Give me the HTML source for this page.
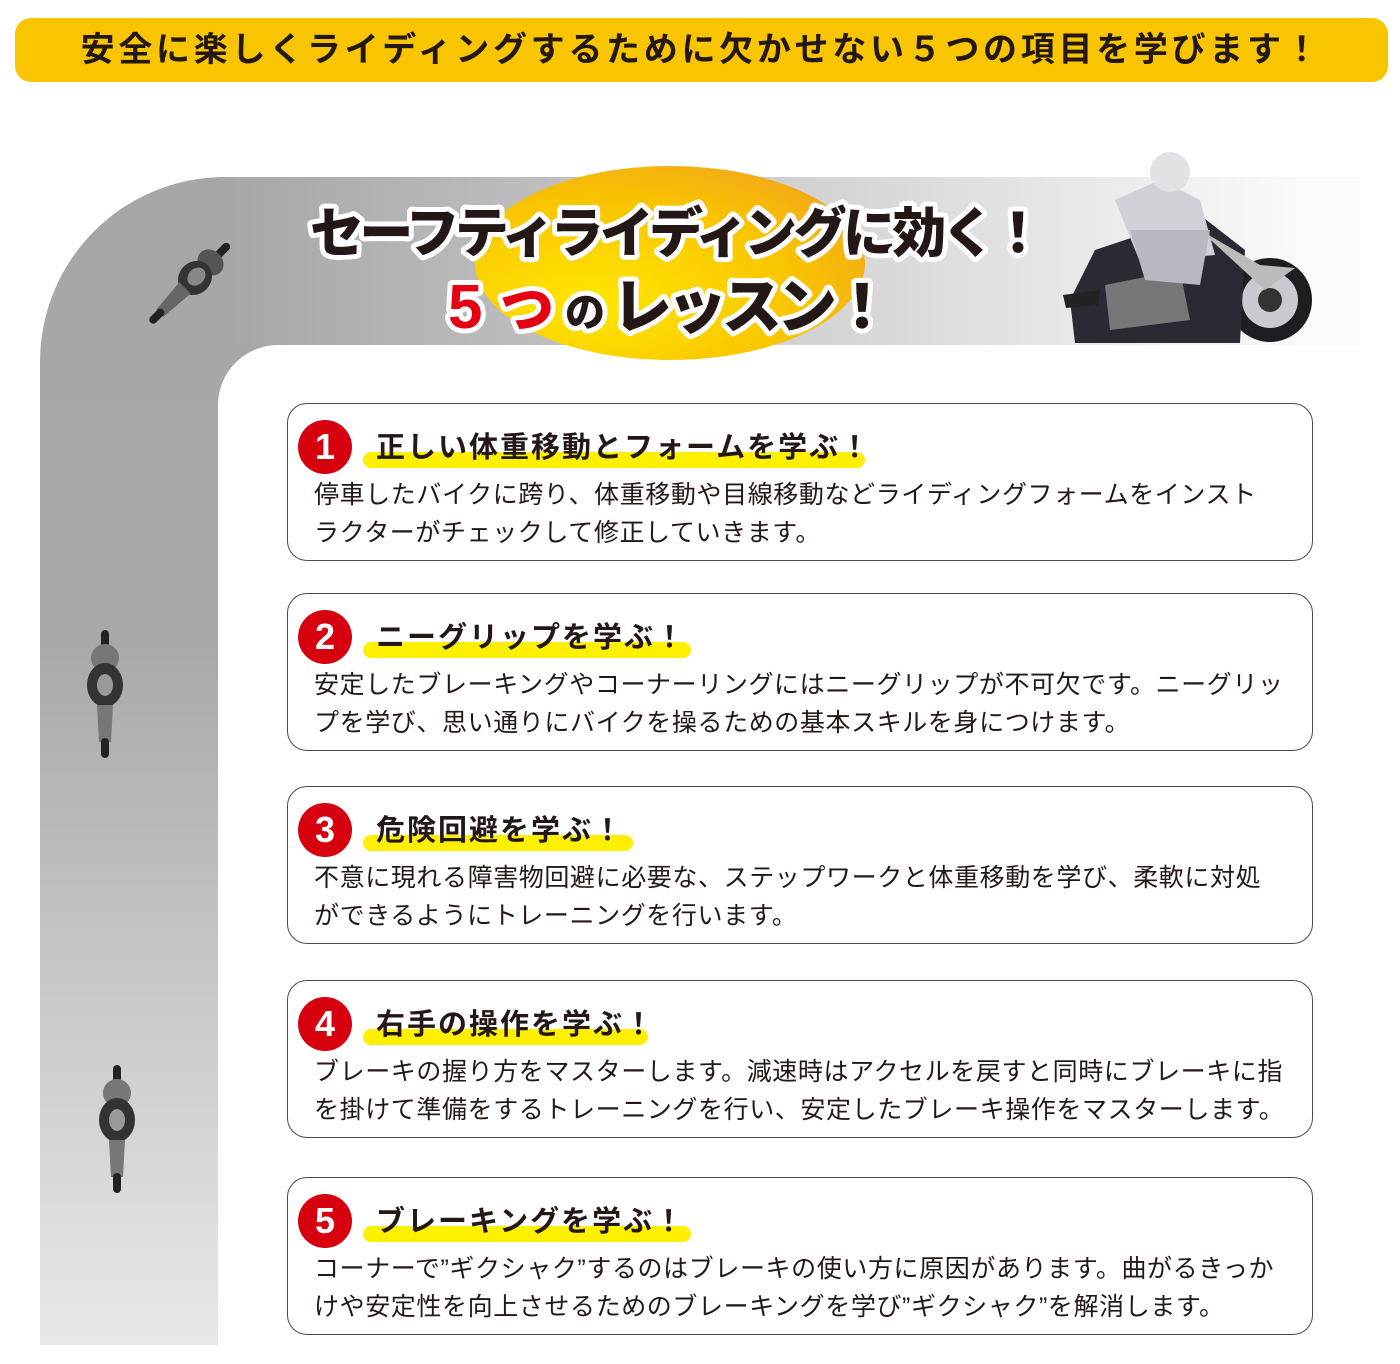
<!DOCTYPE html>
<html><head><meta charset="utf-8"><style>
*{margin:0;padding:0;box-sizing:border-box}
body{width:1400px;height:1364px;background:#fff;position:relative;overflow:hidden;font-family:"Liberation Sans","Noto Sans CJK JP",sans-serif;color:#231815}
.banner{position:absolute;left:15px;top:18px;width:1373px;height:64px;background:#f8c500;border-radius:16px;text-align:center;font-size:34px;font-weight:bold;line-height:64px;letter-spacing:3.7px}
.road{position:absolute;left:40px;top:177px;width:1320px;height:1168px;border-top-left-radius:185px;background:linear-gradient(to bottom,#a6a6a6 0%,#a9a9a9 40%,#e8e8e8 100%)}
.road2{position:absolute;left:218px;top:177px;width:1142px;height:168px;background:linear-gradient(to right,rgba(166,166,166,1) 0%,rgba(200,200,200,1) 40%,rgba(250,250,250,1) 95%)}
.inner{position:absolute;left:218px;top:345px;width:1182px;height:1019px;background:#fff;border-top-left-radius:60px}
.card{position:absolute;left:287px;width:1026px;height:158px;border:1.5px solid #4a4a4a;border-radius:20px;background:#fff}
.num{position:absolute;left:10px;top:16px;width:54px;height:54px;border-radius:50%;background:#d7000f;color:#fff;font-weight:bold;font-size:36px;text-align:center;line-height:54px}
.hd{position:absolute;left:88px;top:20px;font-size:29px;font-weight:bold;white-space:nowrap;letter-spacing:2px}
.hl{position:absolute;left:75px;top:48px;height:16px;background:#fff000;border-radius:8px}
.bd{position:absolute;left:26px;top:72px;font-size:25px;line-height:38px;white-space:nowrap;color:#231815;letter-spacing:0.6px}
</style></head><body>
<div class="banner">安全に楽しくライディングするために欠かせない５つの項目を学びます！</div>
<div class="road"></div>
<div class="road2"></div>
<div class="inner"></div>
<svg style="position:absolute;left:0;top:0" width="1400" height="1364">
<defs>
<radialGradient id="yg" cx="0.3" cy="0.7" r="0.9"><stop offset="0" stop-color="#ffe600"/><stop offset="0.6" stop-color="#f9c300"/><stop offset="1" stop-color="#f0a020"/></radialGradient>
</defs>
<ellipse cx="670" cy="263" rx="195" ry="97" fill="url(#yg)"/>
<g font-family="Liberation Sans,Noto Sans CJK JP,sans-serif" font-weight="900" stroke="#fff" stroke-width="10" paint-order="stroke" stroke-linejoin="round">
<text x="310" y="252" font-size="54" fill="#231815" textLength="735">セーフティライディングに効く！</text>
<text x="448" y="328" font-size="62" fill="#e50012">5</text>
<text x="500" y="328" font-size="54" fill="#e50012">つ</text>
<text x="565" y="326" font-size="40" fill="#231815">の</text>
<text x="612" y="328" font-size="60" fill="#231815" textLength="280">レッスン！</text>
</g>
<g transform="translate(195,278) rotate(45)">
<rect x="-4" y="-48" width="8" height="18" rx="4" fill="#222"/>
<ellipse cx="0" cy="-22" rx="14" ry="12" fill="#555"/>
<ellipse cx="0" cy="0" rx="16" ry="18" fill="#333"/>
<ellipse cx="0" cy="-2" rx="8" ry="10" fill="#888"/>
<path d="M-8 14 L8 14 L5 50 L-5 50Z" fill="#666"/>
<rect x="-4" y="45" width="8" height="18" rx="4" fill="#222"/>
</g>
<g transform="translate(105,690)">
<rect x="-4" y="-60" width="8" height="20" rx="4" fill="#222"/>
<ellipse cx="0" cy="-32" rx="14" ry="14" fill="#777"/>
<ellipse cx="0" cy="-5" rx="18" ry="22" fill="#333"/>
<ellipse cx="0" cy="-5" rx="8" ry="11" fill="#999"/>
<path d="M-8 15 L8 15 L6 52 L-6 52Z" fill="#777"/>
<rect x="-4" y="48" width="8" height="20" rx="4" fill="#222"/>
</g>
<g transform="translate(117,1125)">
<rect x="-4" y="-60" width="8" height="20" rx="4" fill="#222"/>
<ellipse cx="0" cy="-32" rx="14" ry="14" fill="#777"/>
<ellipse cx="0" cy="-5" rx="18" ry="22" fill="#333"/>
<ellipse cx="0" cy="-5" rx="8" ry="11" fill="#999"/>
<path d="M-8 15 L8 15 L6 52 L-6 52Z" fill="#777"/>
<rect x="-4" y="48" width="8" height="20" rx="4" fill="#222"/>
</g>
<g>
<circle cx="1270" cy="300" r="42" fill="#1e1e22"/><circle cx="1270" cy="300" r="28" fill="#c9c9d0"/><circle cx="1270" cy="300" r="12" fill="#333"/>
<path d="M1075 343 L1070 300 L1095 250 L1200 215 L1245 250 L1240 343Z" fill="#2a2a33"/>
<path d="M1105 285 L1180 270 L1190 320 L1110 330Z" fill="#777"/>
<path d="M1115 200 L1160 180 L1200 200 L1215 255 L1140 262Z" fill="#d0d0d6"/>
<path d="M1130 230 L1210 230 L1200 285 L1145 280Z" fill="#b8b8c0"/>
<circle cx="1170" cy="172" r="20" fill="#e2e2e6"/>
<path d="M1200 230 L1260 265 L1295 268 L1265 290Z" fill="#bbb"/>
<path d="M1063 295 L1100 290 L1098 305 L1066 308Z" fill="#222"/>
</g>
</svg>

<div class="card" style="top:403px"><div class="num">1</div><div class="hl" style="width:502px"></div><div class="hd">正しい体重移動とフォームを学ぶ！</div><div class="bd">停車したバイクに跨り、体重移動や目線移動などライディングフォームをインスト<br>ラクターがチェックして修正していきます。</div></div>
<div class="card" style="top:593px"><div class="num">2</div><div class="hl" style="width:328px"></div><div class="hd">ニーグリップを学ぶ！</div><div class="bd">安定したブレーキングやコーナーリングにはニーグリップが不可欠です。ニーグリッ<br>プを学び、思い通りにバイクを操るための基本スキルを身につけます。</div></div>
<div class="card" style="top:786px"><div class="num">3</div><div class="hl" style="width:270px"></div><div class="hd">危険回避を学ぶ！</div><div class="bd">不意に現れる障害物回避に必要な、ステップワークと体重移動を学び、柔軟に対処<br>ができるようにトレーニングを行います。</div></div>
<div class="card" style="top:980px"><div class="num">4</div><div class="hl" style="width:285px"></div><div class="hd">右手の操作を学ぶ！</div><div class="bd">ブレーキの握り方をマスターします。減速時はアクセルを戻すと同時にブレーキに指<br>を掛けて準備をするトレーニングを行い、安定したブレーキ操作をマスターします。</div></div>
<div class="card" style="top:1177px"><div class="num">5</div><div class="hl" style="width:328px"></div><div class="hd">ブレーキングを学ぶ！</div><div class="bd">コーナーで”ギクシャク”するのはブレーキの使い方に原因があります。曲がるきっか<br>けや安定性を向上させるためのブレーキングを学び”ギクシャク”を解消します。</div></div>
</body></html>
